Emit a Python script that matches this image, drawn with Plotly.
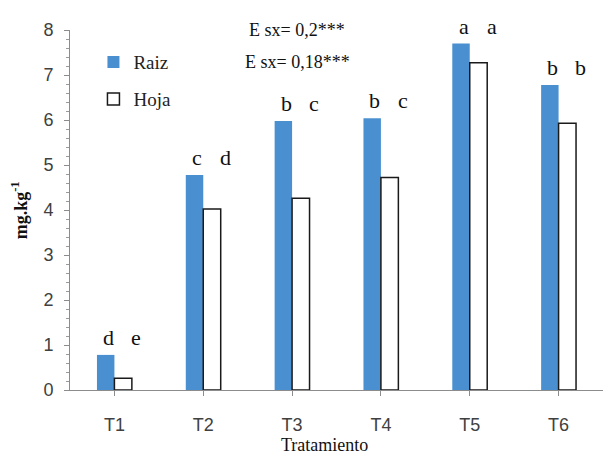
import plotly.graph_objects as go

categories = ["T1", "T2", "T3", "T4", "T5", "T6"]
raiz = [0.78, 4.78, 5.98, 6.04, 7.70, 6.78]
hoja = [0.26, 4.02, 4.26, 4.72, 7.27, 5.93]
letters_raiz = ["d", "c", "b", "b", "a", "b"]
letters_hoja = ["e", "d", "c", "c", "a", "b"]
y_ticks = [0, 1, 2, 3, 4, 5, 6, 7, 8]
esx_lines = ["E sx= 0,2***", "E sx= 0,18***"]

SERIF = "Liberation Serif, Times New Roman, serif"
NARROW = "Liberation Sans Narrow, Arial Narrow, Liberation Sans, sans-serif"
BLUE = "#4a90d0"

fig = go.Figure()
fig.add_trace(go.Bar(x=categories, y=raiz, name="Raiz", showlegend=True,
                     marker=dict(color=BLUE, line=dict(width=0)),
                     legend="legend"))
fig.add_trace(go.Bar(x=categories, y=hoja, name="Hoja", showlegend=True,
                     marker=dict(color="white", line=dict(color="#1a1a1a", width=1.5)),
                     legend="legend2"))

annotations = []
for c, r, h, lr, lh in zip(categories, raiz, hoja, letters_raiz, letters_hoja):
    top = max(r, h)
    annotations.append(dict(x=c, y=top, xref="x", yref="y", text=lr, showarrow=False,
                            xshift=-6, yshift=3, yanchor="bottom",
                            font=dict(family=SERIF, size=22, color="#111")))
    annotations.append(dict(x=c, y=top, xref="x", yref="y", text=lh, showarrow=False,
                            xshift=22, yshift=3, yanchor="bottom",
                            font=dict(family=SERIF, size=22, color="#111")))

for i, t in enumerate(esx_lines):
    annotations.append(dict(x=0.426, y=1.0 - i * 0.089, xref="paper", yref="paper",
                            text=t, showarrow=False, xanchor="center", yanchor="middle",
                            font=dict(family=SERIF, size=18, color="#111")))

annotations.append(dict(x=0.478, y=-0.152, xref="paper", yref="paper", text="Tratamiento",
                        showarrow=False, xanchor="center", yanchor="middle",
                        font=dict(family=SERIF, size=18, color="#111")))
annotations.append(dict(x=-0.095, y=0.5, xref="paper", yref="paper",
                        text="<b>mg.kg<sup>-1</sup></b>", textangle=-90,
                        showarrow=False, xanchor="center", yanchor="middle",
                        font=dict(family=SERIF, size=18, color="#111")))

fig.update_layout(
    width=603, height=454,
    margin=dict(l=70, r=0, t=30, b=64),
    paper_bgcolor="white", plot_bgcolor="white",
    showlegend=True,
    barmode="group", bargap=0.607, bargroupgap=0,
    annotations=annotations,
    legend=dict(x=0.044, y=0.911, xanchor="left", yanchor="middle",
                bgcolor="rgba(0,0,0,0)", font=dict(family=SERIF, size=19, color="#222")),
    legend2=dict(x=0.044, y=0.808, xanchor="left", yanchor="middle",
                 bgcolor="rgba(0,0,0,0)", font=dict(family=SERIF, size=19, color="#222")),
    xaxis=dict(type="category", showline=True, linecolor="#8c8c8c", linewidth=1,
               ticks="outside", ticklen=5, tickcolor="#8c8c8c", showgrid=False,
               tickfont=dict(family=NARROW, size=18, color="#404040"),
               ticklabelstandoff=13, zeroline=False),
    yaxis=dict(range=[0, 8], tickvals=y_ticks, showline=True, linecolor="#8c8c8c",
               linewidth=1, ticks="outside", ticklen=5, tickcolor="#8c8c8c",
               showgrid=False, zeroline=False,
               minor=dict(dtick=0.2, ticks="outside", ticklen=3, tickcolor="#9a9a9a", showgrid=False),
               tickfont=dict(family=NARROW, size=18, color="#404040"),
               ticklabelstandoff=7),
)

fig.write_html("out.html", config={"displayModeBar": False},
               post_script="document.body.style.margin='0';")
